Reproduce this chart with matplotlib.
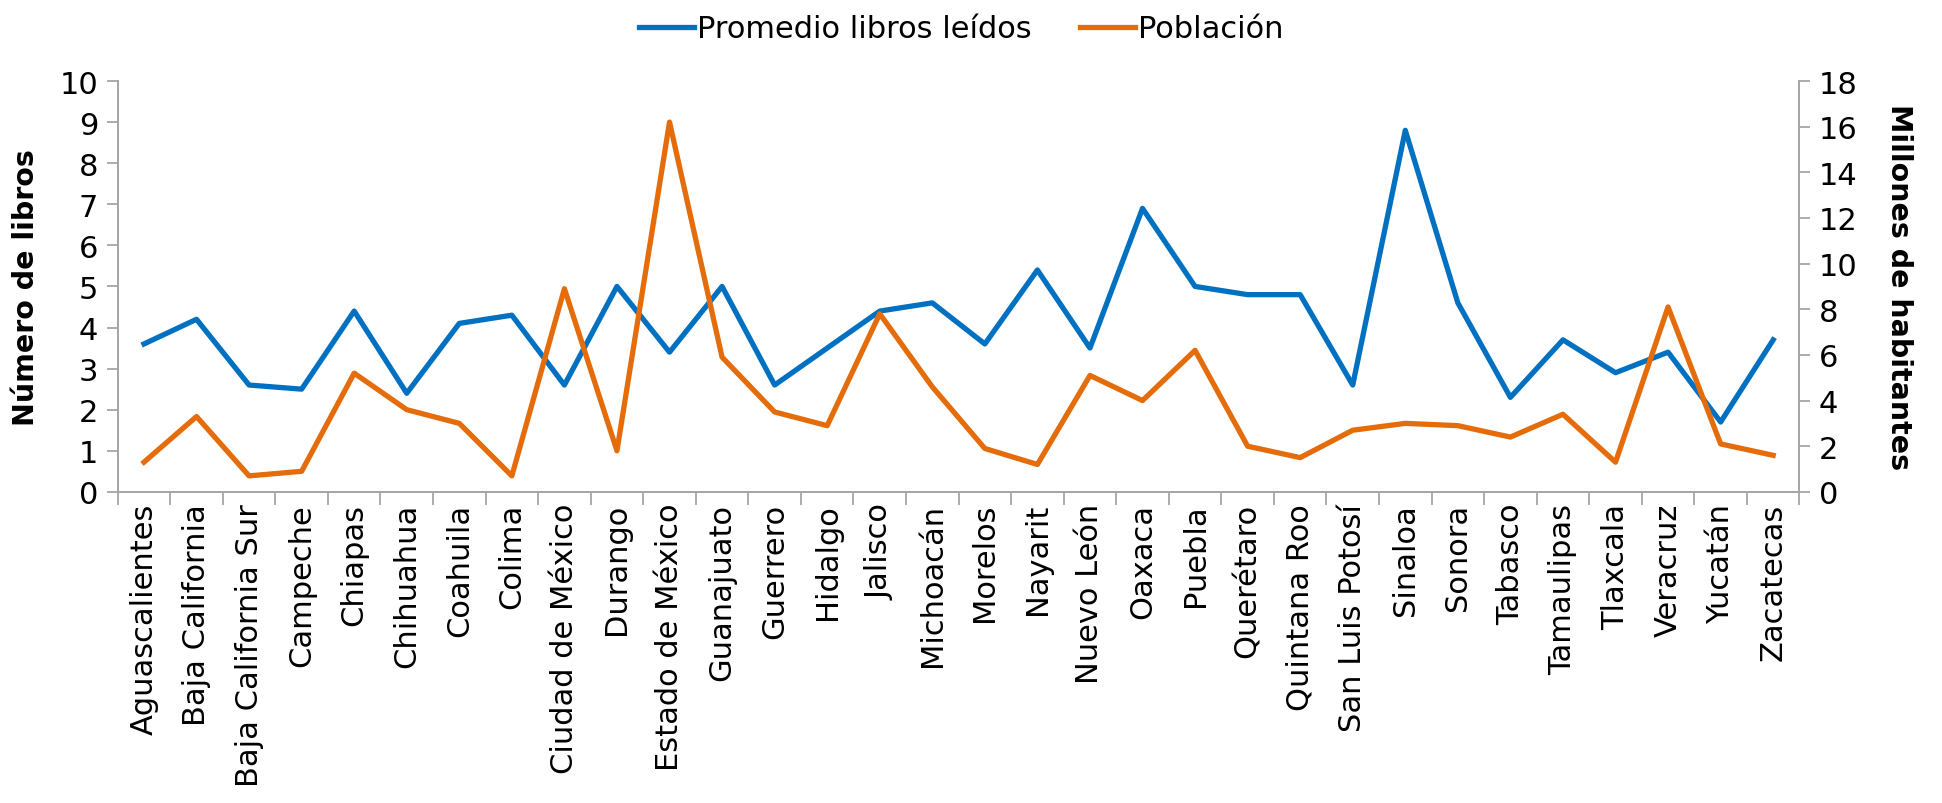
import numpy as np
import matplotlib
matplotlib.use("Agg")
import matplotlib.pyplot as plt

plt.rcParams["font.family"] = ["DejaVu Sans"]

estados = ["Aguascalientes", "Baja California", "Baja California Sur", "Campeche",
           "Chiapas", "Chihuahua", "Coahuila", "Colima", "Ciudad de México",
           "Durango", "Estado de México", "Guanajuato", "Guerrero", "Hidalgo",
           "Jalisco", "Michoacán", "Morelos", "Nayarit", "Nuevo León", "Oaxaca",
           "Puebla", "Querétaro", "Quintana Roo", "San Luis Potosí", "Sinaloa",
           "Sonora", "Tabasco", "Tamaulipas", "Tlaxcala", "Veracruz", "Yucatán",
           "Zacatecas"]
libros = [3.6, 4.2, 2.6, 2.5, 4.4, 2.4, 4.1, 4.3, 2.6, 5.0, 3.4, 5.0, 2.6, 3.5,
          4.4, 4.6, 3.6, 5.4, 3.5, 6.9, 5.0, 4.8, 4.8, 2.6, 8.8, 4.6, 2.3, 3.7,
          2.9, 3.4, 1.7, 3.7]
poblacion = [1.3, 3.3, 0.7, 0.9, 5.2, 3.6, 3.0, 0.7, 8.9, 1.8, 16.2, 5.9, 3.5,
             2.9, 7.8, 4.6, 1.9, 1.2, 5.1, 4.0, 6.2, 2.0, 1.5, 2.7, 3.0, 2.9,
             2.4, 3.4, 1.3, 8.1, 2.1, 1.6]

AZUL, NARANJA, GRIS = "#0070C0", "#E46C0A", "#A6A6A6"
FS = 22

fig = plt.figure(figsize=(19.42, 8.04), dpi=100)
ax = fig.add_axes([0.0606, 0.387, 0.866, 0.511])
ax2 = ax.twinx()
x = np.arange(len(estados))

l1, = ax.plot(x, libros, color=AZUL, lw=3.8, solid_joinstyle="round", label="Promedio libros leídos")
l2, = ax2.plot(x, poblacion, color=NARANJA, lw=3.8, solid_joinstyle="round", label="Población")
ax2.set_zorder(ax.get_zorder() + 1)

ax.set_xlim(-0.5, len(estados) - 0.5)
ax.set_ylim(0, 10)
ax2.set_ylim(0, 18)
ax.set_yticks(range(0, 11))
ax2.set_yticks(range(0, 19, 2))

# ticks de categoría en los bordes, etiquetas al centro
ax.set_xticks(np.arange(-0.5, len(estados)), minor=True)
ax.set_xticks(x)
ax.set_xticklabels(estados, rotation=90, fontsize=FS)
ax.tick_params(axis="x", which="major", length=0, pad=8)
ax.tick_params(axis="x", which="minor", length=9, width=1.3, color=GRIS, direction="out")
ax.tick_params(axis="y", length=8, width=1.3, color=GRIS, labelsize=FS, pad=6)
ax2.tick_params(axis="y", length=8, width=1.3, color=GRIS, labelsize=FS, pad=6)

for a in (ax, ax2):
    a.spines["top"].set_visible(False)
    for s in ("left", "right", "bottom"):
        a.spines[s].set_color(GRIS)
        a.spines[s].set_linewidth(1.3)

ax.set_ylabel("Número de libros", fontsize=20.5, fontweight="bold", labelpad=14)
ax2.set_ylabel("Millones de habitantes", fontsize=20.5, fontweight="bold", rotation=270,
               labelpad=40)

fig.legend(handles=[l1, l2], loc="upper center", bbox_to_anchor=(0.495, 1.015), ncol=2,
           frameon=False, fontsize=FS, handlelength=1.8, columnspacing=1.6, handletextpad=0.1)

fig.savefig("out.png", dpi=100)
